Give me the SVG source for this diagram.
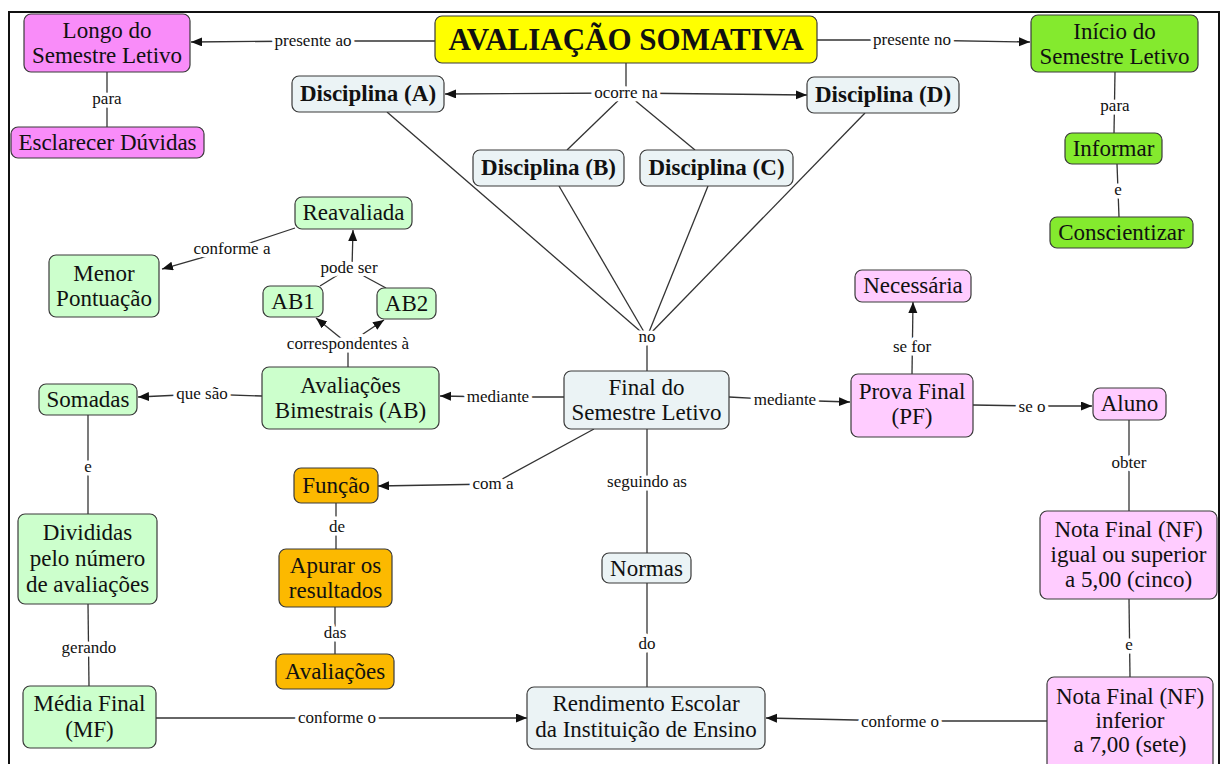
<svg xmlns="http://www.w3.org/2000/svg" width="1222" height="764" viewBox="0 0 1222 764">
<style>
.n{stroke:#3a3a3a;stroke-width:1.2}
.t{font-family:"Liberation Serif","DejaVu Serif",serif;font-size:23px;fill:#111;text-anchor:middle}
.b{font-weight:bold}
.title{font-family:"Liberation Serif","DejaVu Serif",serif;font-size:31px;font-weight:bold;fill:#111;text-anchor:middle}
.l{font-family:"Liberation Serif","DejaVu Serif",serif;font-size:17px;fill:#111;text-anchor:middle;stroke:#fff;stroke-width:7;stroke-linejoin:round;paint-order:stroke}
.c{fill:none;stroke:#333;stroke-width:1.3}
.a{marker-end:url(#arr)}
.mag{fill:#F98CF9}.lime{fill:#84EA2E}.yel{fill:#FFFF00}.gry{fill:#EBF3F5}
.pnk{fill:#FFCCFF}.grn{fill:#CCFFCC}.org{fill:#FCB900}
</style>
<defs>
<marker id="arr" markerUnits="userSpaceOnUse" markerWidth="12" markerHeight="10" refX="11" refY="4.5" orient="auto">
<path d="M0,0 L11,4.5 L0,9 Z" fill="#111"/>
</marker>
</defs>
<rect x="0" y="0" width="1222" height="764" fill="#fff"/>
<rect x="9" y="12" width="1210" height="770" fill="none" stroke="#111" stroke-width="2"/>

<g id="connectors">
<path class="c a" d="M435,41 L313,41 L191,42"/>
<path class="c a" d="M817,40 L912,40 L1030,42"/>
<path class="c" d="M626,63 L626,93"/>
<path class="c a" d="M626,93 L445,94"/>
<path class="c a" d="M626,93 L807,95"/>
<path class="c" d="M626,93 L567,150"/>
<path class="c" d="M626,93 L695,150"/>
<path class="c" d="M387,112 L647,337"/>
<path class="c" d="M559,186 L647,337"/>
<path class="c" d="M708,186 L647,337"/>
<path class="c" d="M865,113 L647,337"/>
<path class="c" d="M647,337 L647,371"/>
<path class="c a" d="M564,397 L498,397 L440,396"/>
<path class="c a" d="M729,397 L785,400 L850,402"/>
<path class="c a" d="M594,429 L493,484 L378,486"/>
<path class="c" d="M647,429 L647,553"/>
<path class="c" d="M647,583 L647,687"/>
<path class="c a" d="M156,718 L337,718 L527,718"/>
<path class="c a" d="M1047,721 L900,721 L766,718"/>
<path class="c" d="M348,367 L348,344"/>
<path class="c a" d="M348,344 L316,318"/>
<path class="c a" d="M348,344 L384,320"/>
<path class="c" d="M320,286 L349,268"/>
<path class="c" d="M386,288 L349,268"/>
<path class="c a" d="M352,268 L353,230"/>
<path class="c a" d="M295,228 L232,249 L162,269"/>
<path class="c a" d="M262,396 L202,394 L138,397"/>
<path class="c" d="M88,415 L88,514"/>
<path class="c" d="M88,604 L89,686"/>
<path class="c" d="M107,72 L107,127"/>
<path class="c" d="M1115,72 L1114,133"/>
<path class="c" d="M1117,164 L1119,217"/>
<path class="c" d="M336,503 L336,549"/>
<path class="c" d="M335,607 L335,654"/>
<path class="c a" d="M912,374 L913,302"/>
<path class="c a" d="M973,405 L1032,406 L1092,406"/>
<path class="c" d="M1129,420 L1129,511"/>
<path class="c" d="M1129,599 L1130,677"/>
</g>

<g id="labels">
<text class="l" x="313" y="46">presente ao</text>
<text class="l" x="912" y="45">presente no</text>
<text class="l" x="626" y="98">ocorre na</text>
<text class="l" x="107" y="104">para</text>
<text class="l" x="1115" y="111">para</text>
<text class="l" x="1118" y="195">e</text>
<text class="l" x="232" y="254">conforme a</text>
<text class="l" x="349" y="273">pode ser</text>
<text class="l" x="348" y="349">correspondentes à</text>
<text class="l" x="202" y="399">que são</text>
<text class="l" x="498" y="402">mediante</text>
<text class="l" x="785" y="405">mediante</text>
<text class="l" x="647" y="342">no</text>
<text class="l" x="493" y="489">com a</text>
<text class="l" x="647" y="487">seguindo as</text>
<text class="l" x="912" y="352">se for</text>
<text class="l" x="1032" y="412">se o</text>
<text class="l" x="1129" y="468">obter</text>
<text class="l" x="88" y="472">e</text>
<text class="l" x="89" y="653">gerando</text>
<text class="l" x="337" y="532">de</text>
<text class="l" x="335" y="638">das</text>
<text class="l" x="337" y="723">conforme o</text>
<text class="l" x="647" y="649">do</text>
<text class="l" x="900" y="727">conforme o</text>
<text class="l" x="1129" y="650">e</text>
</g>

<g id="n-longo"><rect class="n mag" x="24" y="14" width="166" height="58" rx="7"/><text class="t" x="107" y="38">Longo do</text><text class="t" x="107" y="63">Semestre Letivo</text></g>
<g id="n-esclarecer"><rect class="n mag" x="11" y="127" width="193" height="31" rx="7"/><text class="t" x="107.5" y="150">Esclarecer Dúvidas</text></g>
<g id="n-avaliacao"><rect class="n yel" x="435" y="16" width="382" height="47" rx="7"/><text class="title" x="626" y="50">AVALIAÇÃO SOMATIVA</text></g>
<g id="n-discA"><rect class="n gry" x="292" y="76" width="152" height="36" rx="7"/><text class="t b" x="368" y="101">Disciplina (A)</text></g>
<g id="n-discD"><rect class="n gry" x="807" y="77" width="152" height="36" rx="7"/><text class="t b" x="883" y="102">Disciplina (D)</text></g>
<g id="n-discB"><rect class="n gry" x="473" y="150" width="151" height="36" rx="7"/><text class="t b" x="548.5" y="175">Disciplina (B)</text></g>
<g id="n-discC"><rect class="n gry" x="640" y="150" width="153" height="36" rx="7"/><text class="t b" x="716.5" y="175">Disciplina (C)</text></g>
<g id="n-inicio"><rect class="n lime" x="1031" y="15" width="167" height="57" rx="7"/><text class="t" x="1114.5" y="39">Início do</text><text class="t" x="1114.5" y="64">Semestre Letivo</text></g>
<g id="n-informar"><rect class="n lime" x="1065" y="133" width="97" height="31" rx="7"/><text class="t" x="1113.5" y="156">Informar</text></g>
<g id="n-conscientizar"><rect class="n lime" x="1050" y="217" width="143" height="31" rx="7"/><text class="t" x="1121.5" y="240">Conscientizar</text></g>
<g id="n-reavaliada"><rect class="n grn" x="295" y="197" width="117" height="32" rx="7"/><text class="t" x="353.5" y="220">Reavaliada</text></g>
<g id="n-menor"><rect class="n grn" x="49" y="255" width="110" height="62" rx="7"/><text class="t" x="104" y="281">Menor</text><text class="t" x="104" y="306">Pontuação</text></g>
<g id="n-ab1"><rect class="n grn" x="263" y="286" width="60" height="31" rx="7"/><text class="t" x="293" y="309">AB1</text></g>
<g id="n-ab2"><rect class="n grn" x="377" y="288" width="59" height="31" rx="7"/><text class="t" x="406.5" y="311">AB2</text></g>
<g id="n-ab"><rect class="n grn" x="262" y="367" width="177" height="62" rx="7"/><text class="t" x="350.5" y="393">Avaliações</text><text class="t" x="350.5" y="418">Bimestrais (AB)</text></g>
<g id="n-somadas"><rect class="n grn" x="39" y="384" width="98" height="31" rx="7"/><text class="t" x="88" y="407">Somadas</text></g>
<g id="n-final"><rect class="n gry" x="564" y="371" width="165" height="58" rx="7"/><text class="t" x="646.5" y="395">Final do</text><text class="t" x="646.5" y="420">Semestre Letivo</text></g>
<g id="n-pf"><rect class="n pnk" x="851" y="374" width="122" height="63" rx="7"/><text class="t" x="912" y="399">Prova Final</text><text class="t" x="912" y="424">(PF)</text></g>
<g id="n-necessaria"><rect class="n pnk" x="855" y="270" width="116" height="32" rx="7"/><text class="t" x="913" y="293">Necessária</text></g>
<g id="n-aluno"><rect class="n pnk" x="1093" y="388" width="73" height="32" rx="7"/><text class="t" x="1129.5" y="411">Aluno</text></g>
<g id="n-nf5"><rect class="n pnk" x="1040" y="511" width="177" height="88" rx="7"/><text class="t" x="1128.5" y="537">Nota Final (NF)</text><text class="t" x="1128.5" y="562">igual ou superior</text><text class="t" x="1128.5" y="587">a 5,00 (cinco)</text></g>
<g id="n-nf7"><rect class="n pnk" x="1047" y="677" width="166" height="100" rx="7"/><text class="t" x="1130" y="704">Nota Final (NF)</text><text class="t" x="1130" y="728">inferior</text><text class="t" x="1130" y="752">a 7,00 (sete)</text></g>
<g id="n-funcao"><rect class="n org" x="294" y="468" width="84" height="35" rx="7"/><text class="t" x="336" y="493">Função</text></g>
<g id="n-apurar"><rect class="n org" x="279" y="549" width="113" height="58" rx="7"/><text class="t" x="335.5" y="573">Apurar os</text><text class="t" x="335.5" y="598">resultados</text></g>
<g id="n-avaliacoes"><rect class="n org" x="276" y="654" width="118" height="35" rx="7"/><text class="t" x="335" y="679">Avaliações</text></g>
<g id="n-divididas"><rect class="n grn" x="18" y="514" width="139" height="90" rx="7"/><text class="t" x="87.5" y="540">Divididas</text><text class="t" x="87.5" y="566">pelo número</text><text class="t" x="87.5" y="592">de avaliações</text></g>
<g id="n-media"><rect class="n grn" x="23" y="686" width="133" height="62" rx="7"/><text class="t" x="89.5" y="711">Média Final</text><text class="t" x="89.5" y="737">(MF)</text></g>
<g id="n-normas"><rect class="n gry" x="602" y="553" width="89" height="30" rx="7"/><text class="t" x="646.5" y="576">Normas</text></g>
<g id="n-rendimento"><rect class="n gry" x="527" y="687" width="238" height="62" rx="7"/><text class="t" x="646" y="711">Rendimento Escolar</text><text class="t" x="646" y="737">da Instituição de Ensino</text></g>
</svg>
